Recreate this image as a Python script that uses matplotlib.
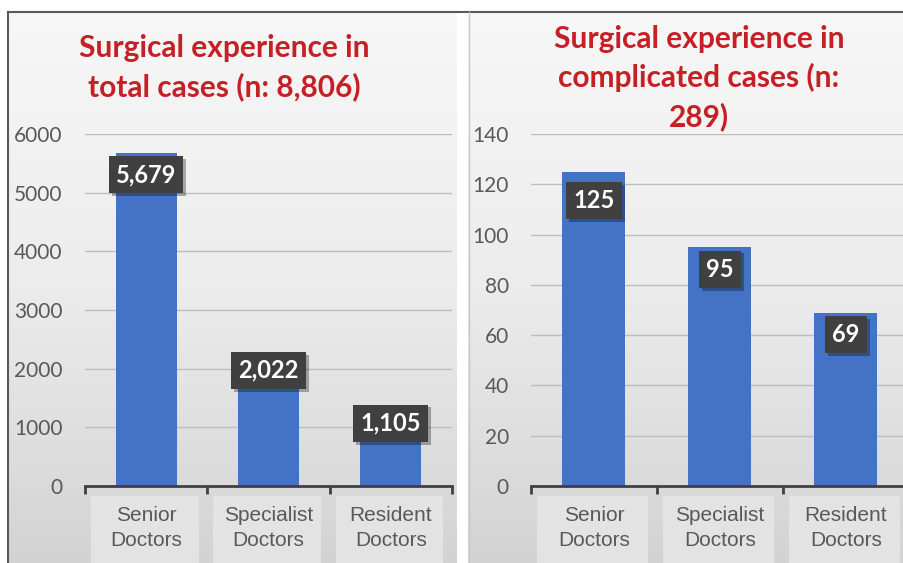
import numpy as np
import matplotlib
matplotlib.use("Agg")
import matplotlib.pyplot as plt
from matplotlib import font_manager
from matplotlib import patheffects
from matplotlib.patches import Rectangle
from matplotlib.lines import Line2D
import matplotlib.transforms as mtrans

# --- data ---
categories = ["Senior\nDoctors", "Specialist\nDoctors", "Resident\nDoctors"]
total_cases = [5679, 2022, 1105]
complicated_cases = [125, 95, 69]
total_labels = ["5,679", "2,022", "1,105"]
complicated_labels = ["125", "95", "69"]
title_total = "Surgical experience in\ntotal cases (n: 8,806)"
title_complicated = "Surgical experience in\ncomplicated cases (n:\n289)"
total_ticks = [0, 1000, 2000, 3000, 4000, 5000, 6000]
complicated_ticks = [0, 20, 40, 60, 80, 100, 120, 140]

# --- style ---
W, H = 904, 563
BAR = "#4472C4"
RED = "#C62026"
GREY_TXT = "#595959"
names = {f.name for f in font_manager.fontManager.ttflist}
NUM_FONT = "Lato" if "Lato" in names else "DejaVu Sans"
if "Liberation Sans Narrow" in names:
    CAT_FONT, CAT_SIZE = "Liberation Sans Narrow", 17
else:
    CAT_FONT, CAT_SIZE = "Liberation Sans", 15


def px(x0, y0, w, h):
    # pixel box (from top-left) -> figure fraction
    return [x0 / W, 1 - (y0 + h) / H, w / W, h / H]


fig = plt.figure(figsize=(W / 100, H / 100), dpi=100)
fig.patch.set_facecolor("white")

# panel backgrounds (vertical grey gradient)
grad = np.linspace(0, 1, 256).reshape(-1, 1)
cmap = matplotlib.colors.LinearSegmentedColormap.from_list("bg", ["#F7F7F7", "#ECECEC", "#D3D3D3"])
for box in [px(9, 12, 448, 551), px(468, 12, 436, 551)]:
    bg = fig.add_axes(box, zorder=0)
    bg.imshow(grad, aspect="auto", cmap=cmap, extent=[0, 1, 0, 1])
    bg.set_axis_off()

fig.add_artist(Line2D([8 / W, 1], [1 - 12 / H] * 2, color="#595959", lw=1.5))
fig.add_artist(Line2D([8 / W] * 2, [0, 1 - 12 / H], color="#595959", lw=1.5))
fig.add_artist(Line2D([468.5 / W] * 2, [0, 1 - 12 / H], color="#C8C8C8", lw=1))


def draw_panel(rect, values, labels, ticks, title, title_xy, drops):
    ax = fig.add_axes(rect, zorder=2)
    ax.patch.set_alpha(0)
    x = np.arange(len(values))
    ax.bar(x, values, width=0.5, color=BAR, zorder=2)
    ax.set_xlim(-0.5, 2.5)
    ax.set_ylim(ticks[0], ticks[-1])
    ax.set_yticks(ticks)
    ax.set_yticklabels([str(t) for t in ticks], fontsize=15, color=GREY_TXT, family=NUM_FONT)
    ax.tick_params(axis="y", length=0, pad=16)
    ax.grid(axis="y", color="#BDBDBD", lw=1, zorder=1)
    for s in ["top", "right", "left"]:
        ax.spines[s].set_visible(False)
    ax.spines["bottom"].set_color("#404040")
    ax.spines["bottom"].set_linewidth(2)
    ax.set_xticks(x)
    ax.set_xticklabels([])
    ax.tick_params(axis="x", which="major", length=0)
    ax.set_xticks([-0.5, 0.5, 1.5, 2.5], minor=True)
    ax.tick_params(axis="x", which="minor", length=6, width=2, color="#404040", direction="out")

    # category label boxes and text
    tr = mtrans.blended_transform_factory(ax.transData, fig.transFigure)
    for i, c in enumerate(categories):
        ax.add_patch(Rectangle((i - 0.45, 0), 0.88, 1 - 496 / H, transform=tr,
                               facecolor="#E3E3E3", edgecolor="none", clip_on=False, zorder=1))
        ax.text(i, 1 - 528 / H, c, transform=tr, ha="center", va="center",
                fontsize=CAT_SIZE, color=GREY_TXT, family=CAT_FONT, linespacing=1.4)

    # data labels in dark boxes with a soft shadow
    for i, (v, lab) in enumerate(zip(values, labels)):
        t = ax.annotate(lab, (i, v), xytext=(0, -drops[i]), textcoords="offset pixels",
                        ha="center", va="center", fontsize=17, color="white",
                        family=NUM_FONT, fontweight="bold",
                        bbox=dict(boxstyle="square,pad=0.3", fc="#404040", ec="none"),
                        zorder=5)
        t.get_bbox_patch().set_path_effects([
            patheffects.SimplePatchShadow(offset=(2, -2), shadow_rgbFace="black", alpha=0.3),
            patheffects.Normal()])

    fig.text(title_xy[0] / W, 1 - title_xy[1] / H, title, ha="center", va="top",
             fontsize=21.5, color=RED, family=NUM_FONT, fontweight="bold", linespacing=1.42)
    return ax


draw_panel(px(85, 134, 367, 352), total_cases, total_labels, total_ticks,
           title_total, (224, 34), [22, 3, 2])
draw_panel(px(531, 134, 378, 352), complicated_cases, complicated_labels, complicated_ticks,
           title_complicated, (699, 25), [29, 22, 22])

fig.savefig("out.png", dpi=100)
